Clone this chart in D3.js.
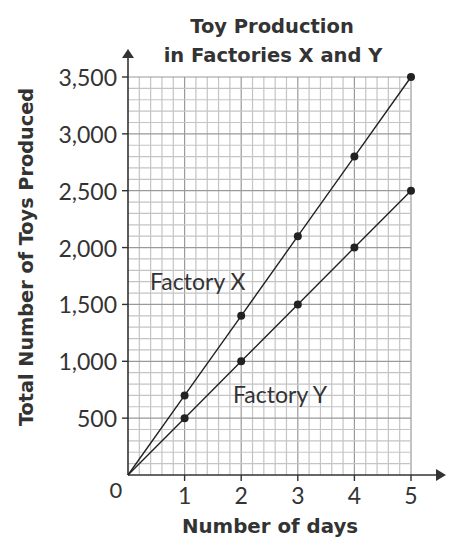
<!DOCTYPE html>
<html><head><meta charset="utf-8">
<script src="https://cdn.jsdelivr.net/npm/d3@7"></script>
<style>body{margin:0;background:#fff}</style>
</head><body>
<svg id="c" width="451" height="542"></svg>
<script>
const days = [0, 1, 2, 3, 4, 5];
const factoryX = [0, 700, 1400, 2100, 2800, 3500];
const factoryY = [0, 500, 1000, 1500, 2000, 2500];
const xTicks = [1, 2, 3, 4, 5];
const yTicks = [500, 1000, 1500, 2000, 2500, 3000, 3500];

const svg = d3.select("#c");
const font = "Lato, 'Noto Sans', sans-serif";
const bfont = "'DejaVu Sans', sans-serif";
const tc = "#333";
const x = d3.scaleLinear().domain([0, 5]).range([128, 411]);
const y = d3.scaleLinear().domain([0, 3500]).range([475, 77]);

// grid
const g = svg.append("g");
g.selectAll("line.vx").data(d3.range(1, 26)).enter().append("line")
  .attr("x1", d => x(d / 5)).attr("x2", d => x(d / 5))
  .attr("y1", y(0)).attr("y2", y(3500))
  .attr("stroke", d => d % 5 === 0 ? "#9a9a9a" : "#c4c4c4").attr("stroke-width", 1.2);
g.selectAll("line.hy").data(d3.range(1, 36)).enter().append("line")
  .attr("y1", d => y(d * 100)).attr("y2", d => y(d * 100))
  .attr("x1", x(0)).attr("x2", x(5))
  .attr("stroke", d => d % 5 === 0 ? "#9a9a9a" : "#c4c4c4").attr("stroke-width", 1.2);

// axes
const ax = "#333";
svg.append("line").attr("x1", x(0)).attr("x2", 438).attr("y1", y(0)).attr("y2", y(0)).attr("stroke", ax).attr("stroke-width", 1.6);
svg.append("path").attr("d", `M446,${y(0)} L436,${y(0)-6} L436,${y(0)+6} Z`).attr("fill", ax);
svg.append("line").attr("x1", x(0)).attr("x2", x(0)).attr("y1", y(0)).attr("y2", 56).attr("stroke", ax).attr("stroke-width", 1.6);
svg.append("path").attr("d", `M${x(0)},49 L${x(0)-6},58 L${x(0)+6},58 Z`).attr("fill", ax);

// ticks
svg.selectAll("line.xt").data(xTicks).enter().append("line")
  .attr("x1", d => x(d)).attr("x2", d => x(d)).attr("y1", y(0)).attr("y2", y(0) + 6)
  .attr("stroke", ax).attr("stroke-width", 1.4);
svg.selectAll("line.yt").data(yTicks).enter().append("line")
  .attr("x1", x(0) - 6).attr("x2", x(0)).attr("y1", d => y(d)).attr("y2", d => y(d))
  .attr("stroke", ax).attr("stroke-width", 1.4);

svg.selectAll("text.xl").data(xTicks).enter().append("text")
  .attr("x", d => x(d)).attr("y", 504).attr("text-anchor", "middle")
  .attr("font-family", font).attr("font-size", 23).attr("fill", tc).text(d => d);
svg.selectAll("text.yl").data(yTicks).enter().append("text")
  .attr("x", 117).attr("y", d => y(d) + 9).attr("text-anchor", "end")
  .attr("font-family", font).attr("font-size", 23).attr("fill", tc).text(d => d3.format(",")(d));
svg.append("text").attr("x", 116).attr("y", 498).attr("text-anchor", "middle")
  .attr("font-family", font).attr("font-size", 22).attr("fill", tc).text("0");

// lines and points
const line = d3.line().x((d, i) => x(days[i])).y(d => y(d));
[factoryX, factoryY].forEach(s => {
  svg.append("path").attr("d", line(s)).attr("fill", "none").attr("stroke", "#222").attr("stroke-width", 1.4);
  svg.selectAll(null).data(s.slice(1)).enter().append("circle")
    .attr("cx", (d, i) => x(days[i + 1])).attr("cy", d => y(d)).attr("r", 4).attr("fill", "#222");
});

// series labels
svg.append("text").attr("x", 150).attr("y", 290).attr("font-family", font).attr("font-size", 23).attr("fill", tc).text("Factory X");
svg.append("text").attr("x", 233).attr("y", 403).attr("font-family", font).attr("font-size", 23).attr("fill", tc).text("Factory Y");

// titles
svg.append("text").attr("x", 272).attr("y", 33).attr("text-anchor", "middle").attr("font-family", bfont)
  .attr("font-weight", "bold").attr("font-size", 19.5).attr("fill", tc).text("Toy Production");
svg.append("text").attr("x", 273).attr("y", 62).attr("text-anchor", "middle").attr("font-family", bfont)
  .attr("font-weight", "bold").attr("font-size", 19.5).attr("fill", tc).text("in Factories X and Y");
svg.append("text").attr("x", 270).attr("y", 533).attr("text-anchor", "middle").attr("font-family", bfont)
  .attr("font-weight", "bold").attr("font-size", 19.8).attr("fill", tc).text("Number of days");
svg.append("text").attr("transform", "translate(33,257) rotate(-90)").attr("text-anchor", "middle").attr("font-family", bfont)
  .attr("font-weight", "bold").attr("font-size", 19.3).attr("fill", tc).text("Total Number of Toys Produced");
</script>
</body></html>
